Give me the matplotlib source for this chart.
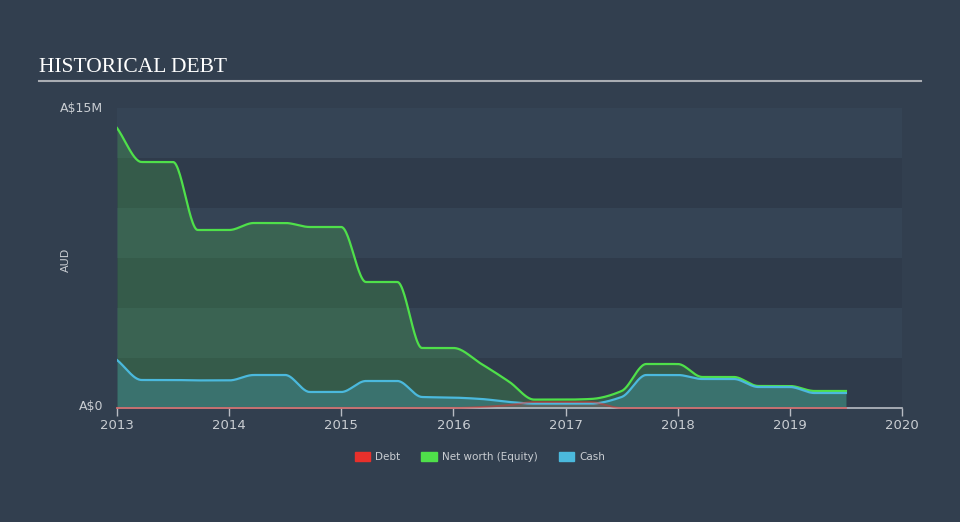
import numpy as np
import matplotlib
matplotlib.use("Agg")
import matplotlib.pyplot as plt
from matplotlib.patches import Patch

# ---- data (A$ millions) ----
dates = [2013.0, 2013.22, 2013.5, 2013.72, 2014.0, 2014.22, 2014.5, 2014.72,
         2015.0, 2015.22, 2015.5, 2015.72, 2016.0, 2016.25, 2016.5, 2016.72,
         2017.0, 2017.22, 2017.5, 2017.72, 2018.0, 2018.22, 2018.5, 2018.72,
         2019.0, 2019.22, 2019.5]
net_worth = [14.0, 12.3, 12.3, 8.9, 8.9, 9.25, 9.25, 9.05,
             9.05, 6.3, 6.3, 3.0, 3.0, 2.2, 1.3, 0.42,
             0.42, 0.45, 0.85, 2.2, 2.2, 1.55, 1.55, 1.1,
             1.1, 0.85, 0.85]
cash = [2.4, 1.4, 1.4, 1.38, 1.38, 1.65, 1.65, 0.8,
        0.8, 1.35, 1.35, 0.55, 0.52, 0.45, 0.3, 0.22,
        0.22, 0.22, 0.55, 1.65, 1.65, 1.45, 1.45, 1.05,
        1.05, 0.75, 0.75]
debt = [0, 0, 0, 0, 0, 0, 0, 0,
        0, 0, 0, 0, 0, 0.05, 0.15, 0.3,
        0.3, 0.3, 0.0, 0, 0, 0, 0, 0,
        0, 0, 0]
year_ticks = [2013, 2014, 2015, 2016, 2017, 2018, 2019, 2020]

FIGBG = "#323f4f"
BG = "#354455"
BAND = "#2f3b4b"
GREEN = "#4fe04a"
BLUE = "#4bb9dd"
RED = "#e8302b"
TXT = "#c9cdd2"


def monotone(x, y, n=800):
    x = np.asarray(x, float)
    y = np.asarray(y, float)
    h = np.diff(x)
    d = np.diff(y) / h
    m = np.zeros_like(y)
    m[0], m[-1] = d[0], d[-1]
    for i in range(1, len(y) - 1):
        if d[i - 1] * d[i] <= 0:
            m[i] = 0
        else:
            w1 = 2 * h[i] + h[i - 1]
            w2 = h[i] + 2 * h[i - 1]
            m[i] = (w1 + w2) / (w1 / d[i - 1] + w2 / d[i])
    xs = np.linspace(x[0], x[-1], n)
    idx = np.clip(np.searchsorted(x, xs) - 1, 0, len(x) - 2)
    t = (xs - x[idx]) / h[idx]
    h00 = 2 * t**3 - 3 * t**2 + 1
    h10 = t**3 - 2 * t**2 + t
    h01 = -2 * t**3 + 3 * t**2
    h11 = t**3 - t**2
    ys = h00 * y[idx] + h10 * h[idx] * m[idx] + h01 * y[idx + 1] + h11 * h[idx] * m[idx + 1]
    return xs, ys


fig = plt.figure(figsize=(9.6, 5.22), dpi=100, facecolor=FIGBG)
ax = fig.add_axes([117 / 960, 1 - 408 / 522, 785 / 960, 300 / 522])
ax.set_facecolor(BG)
ax.set_xlim(2013, 2020)
ax.set_ylim(0, 15)

for lo in (0, 5, 10):
    ax.axhspan(lo, lo + 2.5, color=BAND, zorder=0, lw=0)

xn, yn = monotone(dates, net_worth)
xc, yc = monotone(dates, cash)
xd, yd = monotone(dates, debt)

ax.fill_between(xn, 0, yn, color=GREEN, alpha=0.2, lw=0, zorder=1)
ax.fill_between(xc, 0, yc, color=BLUE, alpha=0.25, lw=0, zorder=2)
ax.fill_between(xd, 0, yd, color=RED, alpha=0.2, lw=0, zorder=2)
ax.plot(xn, yn, color=GREEN, lw=1.6, zorder=4)
ax.plot(xc, yc, color=BLUE, lw=1.6, zorder=4)
ax.plot(xd, yd, color=RED, lw=1.4, alpha=0.5, zorder=6, clip_on=False)

for s in ("top", "right", "left"):
    ax.spines[s].set_visible(False)
ax.spines["bottom"].set_color("#b8bcc4")
ax.spines["bottom"].set_linewidth(1.2)
ax.spines["bottom"].set_zorder(5)
ax.set_xticks(year_ticks)
ax.set_xticklabels([str(y) for y in year_ticks])
ax.tick_params(axis="x", colors="#b8bcc4", labelcolor=TXT, labelsize=9.5,
               length=6, width=1, pad=2)
ax.set_yticks([])

fig.text(103 / 960, 1 - 407 / 522, "A$0", color=TXT, fontsize=9, ha="right", va="center")
fig.text(103 / 960, 1 - 108 / 522, "A$15M", color=TXT, fontsize=9, ha="right", va="center")
fig.text(66 / 960, 1 - 260 / 522, "AUD", color=TXT, fontsize=8, ha="center", va="center",
         rotation=90)

fig.text(39 / 960, 1 - 67 / 522, "HISTORICAL DEBT", color="white", fontsize=15.5,
         family="Liberation Serif", ha="left", va="center")
fig.add_artist(plt.Line2D([39 / 960, 921 / 960], [1 - 81 / 522, 1 - 81 / 522],
                          color="#a9adb3", lw=1.5))

handles = [Patch(color=RED, label="Debt"),
           Patch(color=GREEN, label="Net worth (Equity)"),
           Patch(color=BLUE, label="Cash")]
leg = fig.legend(handles=handles, loc="center", bbox_to_anchor=(480 / 960, 1 - 457 / 522),
                 ncol=3, frameon=False, fontsize=7.5, handlelength=1.5, handleheight=1.0,
                 columnspacing=2.0, handletextpad=0.5)
for t in leg.get_texts():
    t.set_color(TXT)

fig.savefig("out.png", dpi=100, facecolor=FIGBG)
